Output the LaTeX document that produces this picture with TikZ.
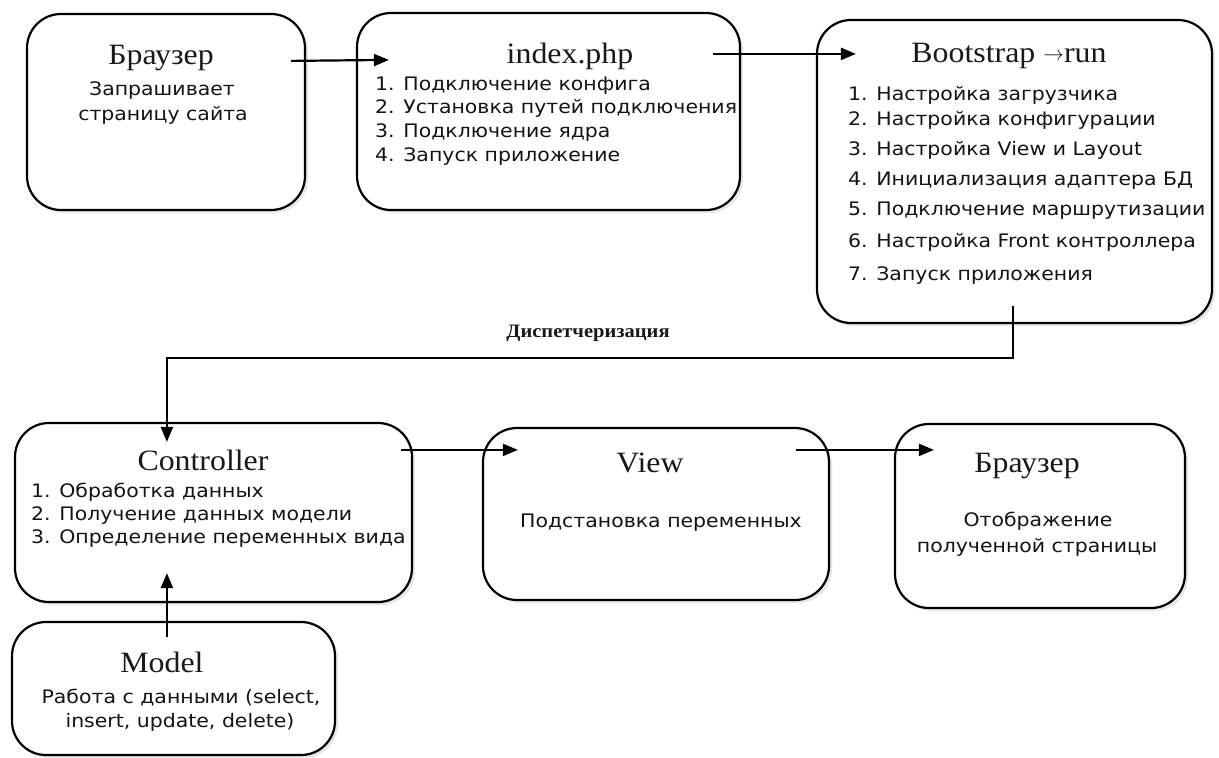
\documentclass[tikz,border=0pt]{standalone}
\usepackage{fontspec}
\setmainfont{Liberation Serif}[FakeStretch=1.08]
\newfontfamily\bodyfont{DejaVu Sans}[FakeStretch=1.1]
\usetikzlibrary{arrows.meta,calc,shadows}

\begin{document}
\begin{tikzpicture}[x=1pt,y=-1pt,
  box/.style={draw=black, line width=2.2pt, rounded corners=34pt, fill=white,
    inner sep=0pt,
    drop shadow={shadow xshift=3pt, shadow yshift=-3pt, opacity=0.2}},
  title/.style={font=\fontsize{29.5}{29.5}\selectfont, text=black!90, anchor=base, inner sep=0pt},
  body/.style={font=\bodyfont\fontsize{18.6}{22}\selectfont, text=black!92, inner sep=0pt},
  arr/.style={line width=2.2pt, -{Triangle[length=15pt,width=12pt]}},
]
\path[use as bounding box] (0,0) rectangle (1219,758);

% frames
\node[box, minimum width=278pt, minimum height=196pt] (brw)  at (166,112)    {};
\node[box, minimum width=383pt, minimum height=197pt] (idx)  at (548.5,111.5) {};
\node[box, minimum width=395pt, minimum height=303pt] (bst)  at (1014.5,171.5) {};
\node[box, minimum width=397pt, minimum height=179pt] (ctl)  at (213.5,512.5) {};
\node[box, minimum width=346pt, minimum height=172pt] (view) at (656,514)    {};
\node[box, minimum width=290pt, minimum height=184pt] (brw2) at (1040,516)   {};
\node[box, minimum width=323pt, minimum height=133pt] (mdl)  at (173.5,688.5) {};

% headings
\node[title] (brw-t)  at (161,64)  {Браузер};
\node[title] (idx-t)  at (570,63)  {index.php};
\node[title] (bst-t)  at (1009,62) {Bootstrap {\fontsize{22}{22}\selectfont\raisebox{2pt}{$\rightarrow$}}run};
\node[title] (ctl-t)  at (203,470) {Controller};
\node[title] (view-t) at (650,472) {View};
\node[title] (brw2-t) at (1027,472) {Браузер};
\node[title] (mdl-t)  at (162,672) {Model};

\node[font=\bfseries\fontsize{19}{19}\selectfont, text=black!90, anchor=base, inner sep=0pt]
  (disp) at (588,337) {Диспетчеризация};

% descriptions
\node[body, anchor=base] (brw-a) at (162,95)  {Запрашивает};
\node[body, anchor=base] (brw-b) at (163,120) {страницу сайта};

\foreach \y/\t [count=\i] in {90/{1. Подключение конфига},
    113.7/{2. Установка путей подключения},
    137.4/{3. Подключение ядра},
    161/{4. Запуск приложение}}
  \node[body, anchor=base west] (idx-l\i) at (375,\y) {\t};

\foreach \y/\t [count=\i] in {100/{1. Настройка загрузчика},
    125/{2. Настройка конфигурации},
    155/{3. Настройка View и Layout},
    185/{4. Инициализация адаптера БД},
    215/{5. Подключение маршрутизации},
    247/{6. Настройка Front контроллера},
    280/{7. Запуск приложения}}
  \node[body, anchor=base west] (bst-l\i) at (848,\y) {\t};

\foreach \y/\t [count=\i] in {497/{1. Обработка данных},
    520/{2. Получение данных модели},
    543/{3. Определение переменных вида}}
  \node[body, anchor=base west] (ctl-l\i) at (31,\y) {\t};

\node[body, anchor=base] (view-a) at (661,527) {Подстановка переменных};
\node[body, anchor=base] (brw2-a) at (1038,526) {Отображение};
\node[body, anchor=base] (brw2-b) at (1037,552) {полученной страницы};
\node[body, anchor=base] (mdl-a) at (181,703) {Работа с данными (select,};
\node[body, anchor=base] (mdl-b) at (180,727) {insert, update, delete)};

% flow
\draw[arr] ($(brw.north east)+(-15,48)$) -- ($(idx.north west)+(33,48)$);
\draw[arr] ($(idx.north east)+(-28,42)$) -- ($(bst.north west)+(40,35)$);
\draw[arr] ($(bst.south)+(-1.5,-18)$) -- ++(0,52) -| ($(ctl.north west)+(153,20)$);
\draw[arr] ($(ctl.north east)+(-12,28)$) -- ($(view.north west)+(36,23)$);
\draw[arr] ($(view.north east)+(-34,23)$) -- ($(brw2.north west)+(40,27)$);
\draw[arr] ($(mdl.north west)+(156,16)$) -- ($(ctl.south west)+(153,-30)$);
\end{tikzpicture}
\end{document}
